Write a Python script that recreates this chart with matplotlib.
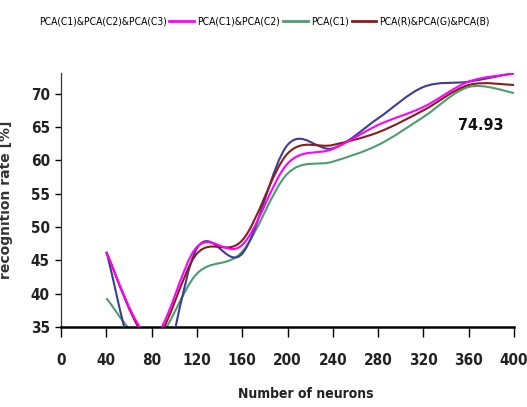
"""Recognition rate vs. number of neurons for four PCA colour-feature sets."""

import matplotlib
matplotlib.use("Agg")
import matplotlib.pyplot as plt
from matplotlib import font_manager
from matplotlib.path import Path
from matplotlib.patches import PathPatch
from matplotlib.lines import Line2D

# Data
neurons = [40, 80, 120, 160, 200, 240, 280, 320, 360, 400]
pca_c1c2c3 = [46.3, 24.0, 46.8, 46.0, 62.3, 61.8, 66.3, 71.0, 71.8, 73.1]
pca_c1c2 = [46.2, 33.5, 47.0, 47.3, 59.5, 61.7, 65.3, 68.0, 71.8, 73.0]
pca_c1 = [39.3, 32.5, 43.0, 46.3, 58.0, 59.8, 62.3, 66.5, 71.0, 70.1]
pca_rgb = [46.2, 33.0, 46.0, 48.0, 61.0, 62.3, 64.2, 67.5, 71.3, 71.3]

series_labels = ["PCA(C1)&PCA(C2)&PCA(C3)", "PCA(C1)&PCA(C2)", "PCA(C1)", "PCA(R)&PCA(G)&PCA(B)"]
x_ticks = [0, 40, 80, 120, 160, 200, 240, 280, 320, 360, 400]
y_ticks = [35, 40, 45, 50, 55, 60, 65, 70]
peak_label = "74.93"

COLORS = ["#3c3c96", "#ff00ff", "#4a9e70", "#8b1c1c"]

# condensed face if the system has one, else plain Liberation Sans
_cond = font_manager.FontProperties(family="DejaVu Sans", stretch="condensed", weight="bold")
HAS_CONDENSED = "ondensed" in font_manager.findfont(_cond, fallback_to_default=True)
if HAS_CONDENSED:
    NARROW = dict(family="DejaVu Sans", stretch="condensed")
    SCALE = 1.0
else:
    NARROW = dict(family="Liberation Sans")
    SCALE = 0.92


def smooth_path(xs, ys):
    """Excel-style smoothed line: cubic Bezier segments through every point."""
    pts = list(zip(xs, ys))
    ext = [pts[0]] + pts + [pts[-1]]
    verts, codes = [pts[0]], [Path.MOVETO]
    for i in range(1, len(ext) - 2):
        p0, p1, p2, p3 = ext[i - 1], ext[i], ext[i + 1], ext[i + 2]
        c1 = (p1[0] + (p2[0] - p0[0]) / 6, p1[1] + (p2[1] - p0[1]) / 6)
        c2 = (p2[0] - (p3[0] - p1[0]) / 6, p2[1] - (p3[1] - p1[1]) / 6)
        verts += [c1, c2, p2]
        codes += [Path.CURVE4] * 3
    return Path(verts, codes)


fig = plt.figure(figsize=(5.27, 4.07), dpi=100)
ax = fig.add_axes([61 / 527, 1 - 327 / 407, 453 / 527, 254 / 407])

all_series = [pca_c1c2c3, pca_c1c2, pca_c1, pca_rgb]
for order, idx in enumerate([2, 0, 3, 1]):
    patch = PathPatch(smooth_path(neurons, all_series[idx]), fill=False,
                      edgecolor=COLORS[idx], linewidth=1.5, zorder=2 + order)
    ax.add_patch(patch)

ax.set_xlim(0, 400)
ax.set_ylim(35, 73.1)
ax.set_xticks(x_ticks)
ax.set_yticks(y_ticks)

for side in ("top", "right"):
    ax.spines[side].set_visible(False)
ax.spines["bottom"].set_linewidth(1.8)
ax.spines["left"].set_linewidth(0.9)
ax.spines["left"].set_color("#333333")

ax.tick_params(axis="x", direction="out", length=7, width=1.0, pad=12)
ax.tick_params(axis="y", direction="out", length=4, width=1.0, pad=4)
for lbl in ax.get_xticklabels() + ax.get_yticklabels():
    lbl.set(**NARROW)
    lbl.set_fontsize(11 * SCALE)
    lbl.set_fontweight("bold")
    lbl.set_color("#222222")

ax.set_xlabel("Number of neurons", fontsize=10 * SCALE, fontweight="bold", color="#222222", **NARROW)
ax.xaxis.set_label_coords(0.54, -0.235)
ax.set_ylabel("recognition rate [%]", fontsize=10, fontweight="semibold", color="#333333")
ax.yaxis.set_label_coords(-0.106, 0.5)

ax.text(371, 65.3, peak_label, fontsize=11.5 * SCALE, fontweight="bold",
        ha="center", va="center", color="#111111", **NARROW)

handles = [Line2D([], [], color="none")] + [Line2D([], [], color=c, linewidth=2) for c in COLORS[1:]]
legend_font = font_manager.FontProperties(size=7.4 if HAS_CONDENSED else 6.7, **NARROW)
fig.legend(handles, series_labels, loc="center", bbox_to_anchor=(0.475, 1 - 22 / 407), ncol=4,
           frameon=False, handlelength=2.4, handletextpad=0.3, columnspacing=0.3,
           prop=legend_font)

fig.savefig("out.png", dpi=100)
